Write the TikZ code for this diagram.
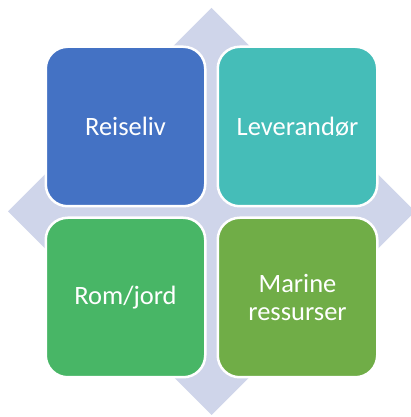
\documentclass[tikz,border=0pt]{standalone}
\usepackage{fontspec}
\setmainfont{Carlito}
\usetikzlibrary{shapes.geometric}
\definecolor{diamondbg}{HTML}{CFD5EA}
\definecolor{boxblue}{HTML}{4472C4}
\definecolor{boxteal}{HTML}{45BDB8}
\definecolor{boxgreen}{HTML}{48B666}
\definecolor{boxolive}{HTML}{70AD47}
\begin{document}
\begin{tikzpicture}[x=1pt,y=1pt,inner sep=0pt,outer sep=0pt,
quadbox/.style={draw=white,line width=2.5pt,rectangle,rounded corners=22pt,minimum width=159.5pt,minimum height=159.5pt,text=white,align=center,font=\fontsize{26.5}{28}\selectfont}]
\useasboundingbox (0,0) rectangle (411,417);
\draw (211.5,205.5) node[diamond,fill=diamondbg,minimum width=407pt,minimum height=407pt] (bg) {};
\draw (125.5,290.5) node[quadbox,fill=boxblue] (reise) {Reiseliv};
\draw (297.5,290.5) node[quadbox,fill=boxteal] (lev) {Leverandør};
\draw (125.5,119.5) node[quadbox,fill=boxgreen] (rom) {Rom/jord};
\draw (297.5,119.5) node[quadbox,fill=boxolive] (marine) {Marine\\ressurser};
\end{tikzpicture}
\end{document}
